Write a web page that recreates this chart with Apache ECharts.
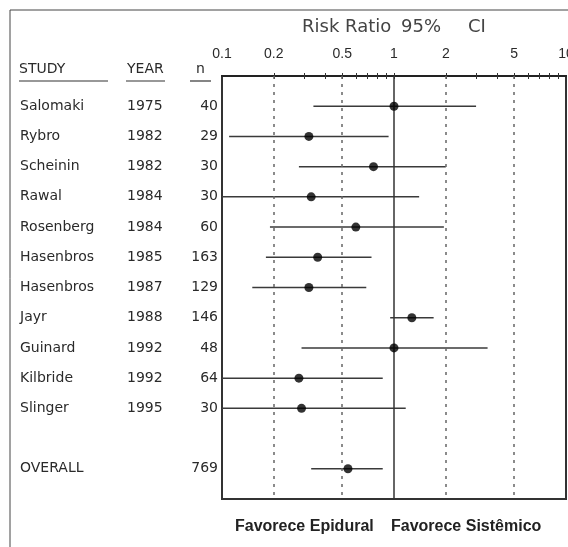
<!DOCTYPE html>
<html>
<head>
<meta charset="utf-8">
<script src="https://cdn.jsdelivr.net/npm/echarts@6/dist/echarts.min.js"></script>
<style>html,body{margin:0;padding:0;background:#fff}#c{width:568px;height:547px}</style>
</head>
<body>
<div id="c"></div>
<script>
// ---- data ----
const studies = ['Salomaki','Rybro','Scheinin','Rawal','Rosenberg','Hasenbros','Hasenbros','Jayr','Guinard','Kilbride','Slinger','OVERALL'];
const years   = ['1975','1982','1982','1984','1984','1985','1987','1988','1992','1992','1995',''];
const nValues = ['40','29','30','30','60','163','129','146','48','64','30','769'];
const rows    = [1,2,3,4,5,6,7,8,9,10,11,13];
const riskRatio = [1.0,0.32,0.76,0.33,0.60,0.36,0.32,1.27,1.0,0.28,0.29,0.54];
const ciLow     = [0.34,0.11,0.28,0.1,0.19,0.18,0.15,0.95,0.29,0.1,0.1,0.33];
const ciHigh    = [3.0,0.93,2.0,1.4,1.95,0.74,0.69,1.7,3.5,0.86,1.17,0.86];
const tickLabels = [0.1,0.2,0.5,1,2,5,10];
const minorTicks = [0.2,0.3,0.4,0.5,0.6,0.7,0.8,0.9,1,2,3,4,5,6,7,8,9];
const dottedLines = [0.2,0.5,2,5];
const nullLine = [1];

const NROWS = 15;
function column(arr){ const a = new Array(NROWS).fill(''); rows.forEach((r,i)=>{a[r]=arr[i];}); return a; }

const font = 'DejaVu Sans';
const txt = '#2a2a2a';

const chart = echarts.init(document.getElementById('c'));
const labelAxis = (data, align, margin) => ({
  type:'category', data, boundaryGap:false, inverse:true, position:'left',
  axisLine:{show:false}, axisTick:{show:false}, splitLine:{show:false},
  axisLabel:{interval:0, align, margin, color:txt, fontFamily:font, fontSize:14, hideOverlap:false}
});

chart.setOption({
  animation:false,
  grid:{left:222, right:2, top:76, bottom:48, show:true, borderColor:'#333', borderWidth:2, outerBoundsMode:'none', containLabel:false},
  xAxis:[
    {type:'log', logBase:10, min:0.1, max:10, position:'top',
     axisLine:{show:true, lineStyle:{color:'#222', width:2}},
     axisTick:{show:true, length:3, inside:false, customValues:minorTicks, lineStyle:{color:'#333'}},
     axisLabel:{show:true, customValues:tickLabels, margin:15, color:txt, fontFamily:'Liberation Sans', fontSize:14,
                formatter:v=>String(v), hideOverlap:false},
     splitLine:{show:false}, minorTick:{show:false}},
    {type:'log', logBase:10, min:0.1, max:10, position:'top',
     axisLine:{show:false},
     axisTick:{show:true, length:3, inside:true, customValues:minorTicks, lineStyle:{color:'#333'}},
     axisLabel:{show:false}, splitLine:{show:false}}
  ],
  yAxis:[
    {type:'value', min:0, max:14, inverse:true, show:false},
    labelAxis(column(studies),'left',202),
    labelAxis(column(years),'left',95),
    labelAxis(column(nValues),'right',4)
  ],
  series:[
    {type:'custom', xAxisIndex:0, yAxisIndex:0,
     data: rows.map((r,i)=>[ciLow[i], ciHigh[i], riskRatio[i], r]),
     encode:{x:[0,1], y:3},
     renderItem:(params, api)=>{
       const a = api.coord([api.value(0), api.value(3)]);
       const b = api.coord([api.value(1), api.value(3)]);
       return {type:'line', shape:{x1:a[0], y1:a[1], x2:b[0], y2:b[1]},
               style:{stroke:'#3a3a3a', lineWidth:1.5}};
     },
     markLine:{silent:true, symbol:'none', label:{show:false},
       data:[
         ...dottedLines.map(v=>({xAxis:v, lineStyle:{type:[3,5], color:'#666', width:1.5}})),
         ...nullLine.map(v=>({xAxis:v, lineStyle:{type:'solid', color:'#333', width:1.5}}))
       ]},
     z:3},
    {type:'scatter', xAxisIndex:0, yAxisIndex:0, symbol:'circle', symbolSize:9,
     itemStyle:{color:'#000'},
     data: rows.map((r,i)=>[riskRatio[i], r]), z:5}
  ],
  graphic:[
    {type:'line', shape:{x1:10,y1:10,x2:568,y2:10}, style:{stroke:'#444', lineWidth:1}},
    {type:'line', shape:{x1:10,y1:10,x2:10,y2:547}, style:{stroke:'#444', lineWidth:1}},
    {type:'text', left:302, top:18, style:{text:'Risk Ratio', font:'18px "DejaVu Sans"', fill:'#444'}},
    {type:'text', left:401, top:18, style:{text:'95%', font:'18px "DejaVu Sans"', fill:'#444'}},
    {type:'text', left:468, top:18, style:{text:'CI', font:'18px "DejaVu Sans"', fill:'#444'}},
    {type:'text', left:19, top:62, style:{text:'STUDY', font:'14px "DejaVu Sans"', fill:txt}},
    {type:'text', left:127, top:62, style:{text:'YEAR', font:'14px "DejaVu Sans"', fill:txt}},
    {type:'text', left:196, top:62, style:{text:'n', font:'14px "DejaVu Sans"', fill:txt}},
    {type:'line', shape:{x1:19,y1:81,x2:108,y2:81}, style:{stroke:'#333', lineWidth:1.2}},
    {type:'line', shape:{x1:126,y1:81,x2:165,y2:81}, style:{stroke:'#333', lineWidth:1.2}},
    {type:'line', shape:{x1:190,y1:81,x2:211,y2:81}, style:{stroke:'#333', lineWidth:1.2}},
    {type:'text', left:235, top:519, style:{text:'Favorece Epidural', font:'bold 16px "Liberation Sans"', fill:'#222'}},
    {type:'text', left:391, top:519, style:{text:'Favorece Sistêmico', font:'bold 16px "Liberation Sans"', fill:'#222'}}
  ]
});
</script>
</body>
</html>
